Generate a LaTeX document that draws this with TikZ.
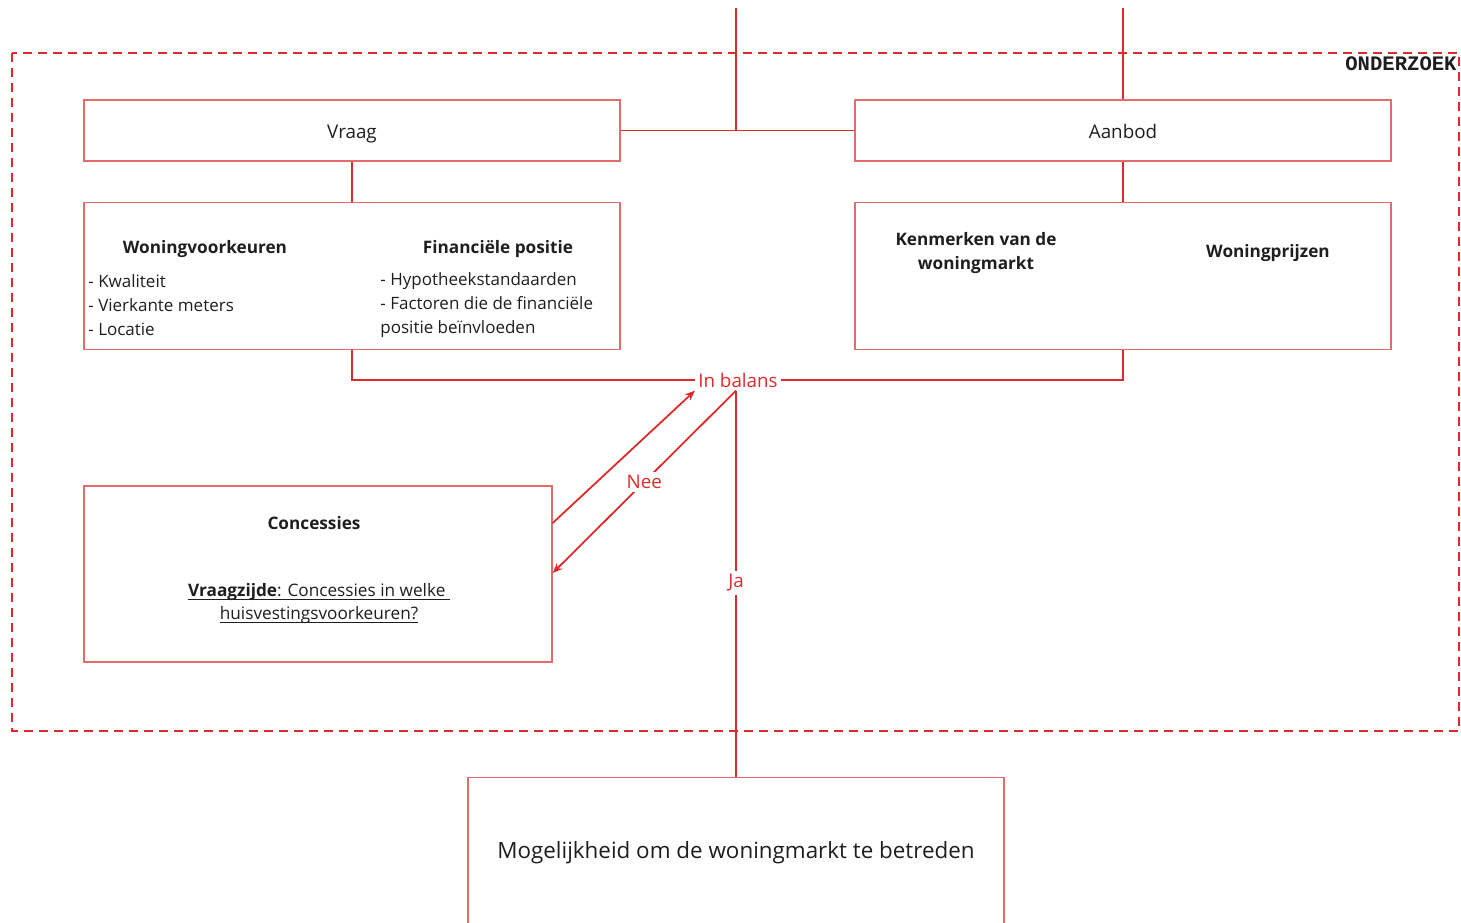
\documentclass[tikz,border=0pt]{standalone}
\usepackage{fontspec}
\setmainfont{Open Sans}
\newfontfamily\labelfont{Liberation Mono}
\usetikzlibrary{positioning,arrows.meta}

\definecolor{linered}{HTML}{DD2B2B}
\definecolor{boxred}{HTML}{E36B6B}
\definecolor{inkblack}{HTML}{1E1E1E}

% underline close to the baseline
\newcommand{\ulbox}[1]{\setbox0\hbox{#1}\rlap{\raisebox{-1.6pt}{\rule{\wd0}{0.45pt}}}\box0}

\tikzset{
	box/.style={draw=boxred, line width=0.7pt, minimum width=268pt, inner sep=0pt},
	link/.style={draw=linered, line width=0.9pt},
	redtext/.style={text=linered, fill=white, inner sep=1.5pt, font=\fontsize{9.4}{11}\selectfont},
	head/.style={text=inkblack, font=\bfseries\fontsize{8.6}{12}\selectfont, align=center},
	body/.style={text=inkblack, font=\fontsize{8.5}{12}\selectfont, align=left, inner sep=0pt}
}

\begin{document}
\begin{tikzpicture}[x=0.5pt, y=-0.5pt]
	\useasboundingbox (0,0) rectangle (1461,922);
	% Nodes
	% Frame around the research part
	\draw[draw=linered, line width=0.9pt, dash pattern=on 4.5pt off 3pt] (12,53) rectangle (1459,731);
	\node[anchor=north east, inner sep=0pt, font=\labelfont\bfseries\fontsize{10.3}{12}\selectfont, text=inkblack] (onderzoek) at (1457,56) {ONDERZOEK};
	% Demand and supply
	\node[box, minimum height=30.5pt, text height=9pt, text depth=1pt, text=inkblack, font=\fontsize{9.4}{11}\selectfont] (vraag) at (352,130.5) {Vraag};
	\node[box, minimum height=30.5pt, text height=9pt, text depth=1pt, text=inkblack, font=\fontsize{9.4}{11}\selectfont] (aanbod) at (1123,130.5) {Aanbod};
	% Detail boxes
	\node[box, minimum height=73.5pt, below=20pt of vraag] (woon) {};
	\node[box, minimum height=73.5pt, below=20pt of aanbod] (markt) {};
	% Text in the demand box
	\node[head] (voorkeur) at (205,249) {Woningvoorkeuren};
	\node[head] (financieel) at (498,249) {Financiële positie};
	\node[body, anchor=west] (voorkeur-list) at (88,305) {- Kwaliteit\\- Vierkante meters\\- Locatie};
	\node[body, anchor=west] (financieel-list) at (380,305) {- Hypotheekstandaarden\\- Factoren die de financiële\\positie beïnvloeden};
	% Text in the supply box
	\node[head] (kenmerken) at (976,253) {Kenmerken van de\\woningmarkt};
	\node[head] (prijzen) at (1268,253) {Woningprijzen};
	% Balance check
	\node[redtext] (balans) at (738,380) {In balans};
	\node[redtext] (ja) at (736,583) {Ja};
	% Concessions
	\node[box, minimum width=234pt, minimum height=88pt] (conc) at (318,574) {};
	\node[head] (conc-title) at (314,523) {Concessies};
	\node[body, align=center, font=\fontsize{8.6}{11.5}\selectfont] (conc-text) at (319,604) {\ulbox{\textbf{Vraagzijde}: Concessies in welke\ }\\\ulbox{huisvestingsvoorkeuren?}};
	% Outcome
	\node[box, minimum height=75pt, anchor=north, text=inkblack, font=\fontsize{11.2}{13}\selectfont] (kans) at (736,777) {Mogelijkheid om de woningmarkt te betreden};
	\coordinate (top-vraag) at (736,8);
	\coordinate (top-aanbod) at (1123,8);
	\coordinate (join) at (736,130.5);
	
	% Edges
	% Incoming lines from above
	\draw[link] (top-vraag) -- (join);
	\draw[link] (top-aanbod) -- (aanbod.north);
	\draw[link] (vraag.east) -- (aanbod.west);
	% Down to the detail boxes
	\draw[link] (vraag) -- (woon);
	\draw[link] (aanbod) -- (markt);
	% Into the balance
	\draw[link] (woon.south) |- (balans.west);
	\draw[link] (markt.south) |- (balans.east);
	% Yes: to the outcome
	\draw[link] (balans.south -| ja) -- (ja.north);
	\draw[link] (ja.south) -- (kans.north);
	% No: via concessions and back
	\draw[link, -{Stealth[length=5pt, width=4pt]}] ([yshift=25.5pt]conc.east) -- (balans.south west);
	\draw[link, -{Stealth[length=5pt, width=4pt]}] (balans.south -| ja) -- node[redtext] (nee) {Nee} ([yshift=0.5pt]conc.east);
\end{tikzpicture}
\end{document}
